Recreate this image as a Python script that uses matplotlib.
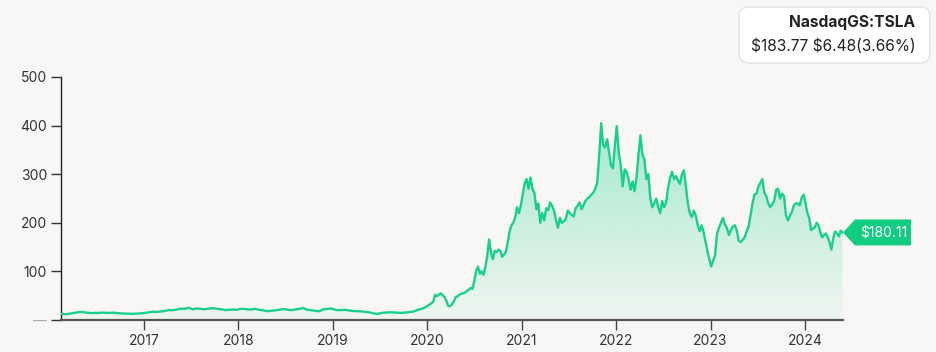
import matplotlib
matplotlib.use("Agg")
import matplotlib.pyplot as plt
import matplotlib.dates as mdates
from matplotlib.patches import FancyBboxPatch, Polygon
import numpy as np
import pandas as pd

# ---------------- data (split-adjusted close, USD) ----------------
prices_2016 = [13.0, 11.8, 12.5, 13.8, 15.0, 16.5, 16.2, 15.0, 14.2, 14.6, 14.5, 15.2,
               14.8, 14.4, 15.0, 14.2, 13.6, 13.2, 13.0, 12.7, 13.0, 13.5, 14.0]
prices_2017 = [14.5, 16.0, 17.0, 16.6, 17.5, 18.6, 20.5, 20.0, 21.5, 23.5, 23.0, 25.0,
               22.0, 23.8, 23.0, 22.0, 23.5, 24.5, 23.0, 22.2, 20.5, 21.0, 21.5, 21.0]
prices_2018 = [22.5, 23.0, 22.0, 21.6, 23.0, 21.0, 20.0, 18.0, 19.2, 19.8, 21.0, 22.6,
               21.5, 20.2, 21.5, 23.0, 24.5, 21.0, 20.0, 19.2, 18.0, 22.0, 23.0, 23.8]
prices_2019 = [22.2, 20.2, 20.5, 20.8, 19.6, 18.5, 18.2, 17.8, 16.6, 15.6, 13.6, 12.6,
               14.6, 15.2, 16.0, 15.4, 15.0, 14.7, 15.4, 16.4, 17.5, 21.0, 23.2, 26.5]
prices_2020 = [29.5, 32.0, 34.5, 38.0, 52.0, 49.0, 52.0, 55.0, 51.5, 47.0, 40.0, 29.0,
               28.5, 32.0, 38.0, 47.0, 48.5, 52.0, 54.0, 55.0, 56.5, 59.5, 62.0, 66.0,
               64.0, 80.0, 100.0, 110.0, 95.0, 100.0, 93.0, 110.0, 133.0, 166.0, 138.0, 125.0,
               142.0, 140.0, 145.0, 142.0, 130.0, 135.0, 140.0, 160.0, 183.0, 195.0, 200.0, 212.0,
               232.0, 220.0, 235.0]
prices_2021 = [256.0, 280.0, 290.0, 270.0, 293.0, 270.0, 262.0, 228.0, 240.0, 200.0, 220.0, 205.0,
               230.0, 226.0, 242.0, 235.0, 225.0, 205.0, 190.0, 210.0, 200.0, 203.0, 208.0, 225.0,
               220.0, 216.0, 213.0, 230.0, 235.0, 242.0, 228.0, 236.0, 245.0, 250.0, 253.0, 258.0,
               262.0, 270.0, 283.0, 340.0, 405.0, 360.0, 355.0, 372.0, 345.0, 318.0, 312.0, 360.0]
prices_2022 = [399.0, 345.0, 320.0, 275.0, 310.0, 305.0, 290.0, 268.0, 285.0, 265.0, 292.0, 340.0,
               380.0, 340.0, 330.0, 290.0, 300.0, 250.0, 232.0, 240.0, 250.0, 232.0, 220.0, 245.0,
               232.0, 242.0, 272.0, 292.0, 305.0, 290.0, 296.0, 287.0, 280.0, 300.0, 308.0, 275.0,
               240.0, 220.0, 212.0, 225.0, 215.0, 195.0, 183.0, 195.0, 180.0, 160.0, 140.0, 123.0]
prices_2023 = [110.0, 122.0, 133.0, 178.0, 190.0, 200.0, 210.0, 196.0, 190.0, 175.0, 185.0, 192.0,
               195.0, 185.0, 163.0, 160.0, 165.0, 170.0, 182.0, 192.0, 215.0, 240.0, 258.0, 260.0,
               275.0, 282.0, 290.0, 262.0, 255.0, 240.0, 232.0, 238.0, 245.0, 268.0, 270.0, 250.0,
               260.0, 255.0, 215.0, 205.0, 215.0, 222.0, 236.0, 240.0, 240.0, 236.0, 252.0, 258.0]
prices_2024 = [240.0, 220.0, 210.0, 185.0, 188.0, 190.0, 200.0, 195.0, 180.0, 170.0, 175.0, 178.0,
               170.0, 160.0, 145.0, 168.0, 182.0, 178.0, 172.0, 184.0, 180.11]

year_spans = [("2016-02-15", "2016-12-28", prices_2016),
              ("2017-01-03", "2017-12-27", prices_2017),
              ("2018-01-03", "2018-12-27", prices_2018),
              ("2019-01-03", "2019-12-27", prices_2019),
              ("2020-01-03", "2020-12-28", prices_2020),
              ("2021-01-04", "2021-12-27", prices_2021),
              ("2022-01-03", "2022-12-28", prices_2022),
              ("2023-01-03", "2023-12-27", prices_2023),
              ("2024-01-03", "2024-05-25", prices_2024)]

y_ticks = [0, 100, 200, 300, 400, 500]
y_tick_labels = ["\u2014", "100", "200", "300", "400", "500"]
x_years = [2017, 2018, 2019, 2020, 2021, 2022, 2023, 2024]

ticker = "NasdaqGS:TSLA"
quote_text = "$183.77 $6.48(3.66%)"
last_label = "$180.11"

# ---------------- build series ----------------
dates = []
values = []
for start, end, vals in year_spans:
    d = pd.date_range(start, end, periods=len(vals))
    dates.extend(list(d))
    values.extend(vals)
dates = pd.to_datetime(dates)
values = np.array(values)
xnum = mdates.date2num(dates)

# ---------------- figure ----------------
BG = "#f8f7f5"
GREEN = "#19d08b"
TAG = "#12cc82"
W, H = 936, 352
plt.rcParams["font.family"] = ["Inter", "DejaVu Sans"]
plt.rcParams["text.parse_math"] = False
fig = plt.figure(figsize=(W / 100, H / 100), dpi=100, facecolor=BG)

left, right, bottom, top = 61 / W, 842.5 / W, 1 - 320 / H, 1 - 77 / H
ax = fig.add_axes([left, bottom, right - left, top - bottom])
ax.set_facecolor(BG)

x0 = mdates.date2num(pd.Timestamp("2016-02-15"))
x1 = xnum[-1]
ax.set_xlim(x0, x1)
ax.set_ylim(0, 500)

# gradient fill
poly_pts = np.column_stack([np.r_[xnum[0], xnum, xnum[-1]], np.r_[0, values, 0]])
poly = Polygon(poly_pts, closed=True, facecolor="none", edgecolor="none")
ax.add_patch(poly)
grad = np.linspace(0, 1, 256).reshape(-1, 1)
rgba = np.zeros((256, 1, 4))
rgba[..., 0] = 0x19 / 255
rgba[..., 1] = 0xd0 / 255
rgba[..., 2] = 0x8b / 255
rgba[..., 3] = 0.04 + 0.34 * grad[:, 0:1]
im = ax.imshow(rgba, extent=[x0, x1, 0, 410], origin="lower", aspect="auto", zorder=1)
im.set_clip_path(poly)

ax.plot(xnum, values, color=GREEN, lw=1.7, zorder=3, solid_joinstyle="round")

# axes styling
for s in ["top", "right"]:
    ax.spines[s].set_visible(False)
ax.spines["left"].set_color("#222222")
ax.spines["left"].set_linewidth(1.0)
ax.spines["bottom"].set_color("#555555")
ax.spines["bottom"].set_linewidth(1.6)
ax.spines["bottom"].set_zorder(4)

ax.set_yticks(y_ticks)
ax.set_yticklabels(y_tick_labels)
for lbl in ax.get_yticklabels():
    lbl.set_color("#333333")
ax.get_yticklabels()[0].set_color("#aaaaaa")
ax.tick_params(axis="y", length=7, width=1.0, color="#333333", labelsize=10, pad=3)

xt = [mdates.date2num(pd.Timestamp(f"{y}-01-01")) for y in x_years]
ax.set_xticks(xt)
ax.set_xticklabels([str(y) for y in x_years])
ax.tick_params(axis="x", length=7, width=1.0, color="#444444", labelsize=10,
               labelcolor="#333333", pad=3)

# price tag
ty = values[-1]
fig.canvas.draw()
_, ty_px = ax.transData.transform((x1, ty))
tag_h = 26
tag = Polygon([[843, ty_px], [855, ty_px + tag_h / 2], [911, ty_px + tag_h / 2],
               [911, ty_px - tag_h / 2], [855, ty_px - tag_h / 2]],
              closed=True, transform=None, facecolor=TAG, edgecolor="none", zorder=5)
fig.patches.append(tag)
fig.text(884 / W, ty_px / H, last_label, color="white", fontsize=10,
         ha="center", va="center", zorder=6)

# quote box
box = FancyBboxPatch((739, H - 63), 191, 56,
                     boxstyle="round,pad=0,rounding_size=10",
                     transform=None, facecolor="white",
                     edgecolor="#e2e2e2", linewidth=1.0)
fig.patches.append(box)
fig.text(915 / W, 1 - 22 / H, ticker, ha="right", va="center", fontsize=11.2,
         fontweight="bold", color="#222222")
fig.text(916 / W, 1 - 46 / H, quote_text, ha="right", va="center", fontsize=11.2,
         color="#222222")

fig.savefig("out.png", dpi=100, facecolor=BG)
